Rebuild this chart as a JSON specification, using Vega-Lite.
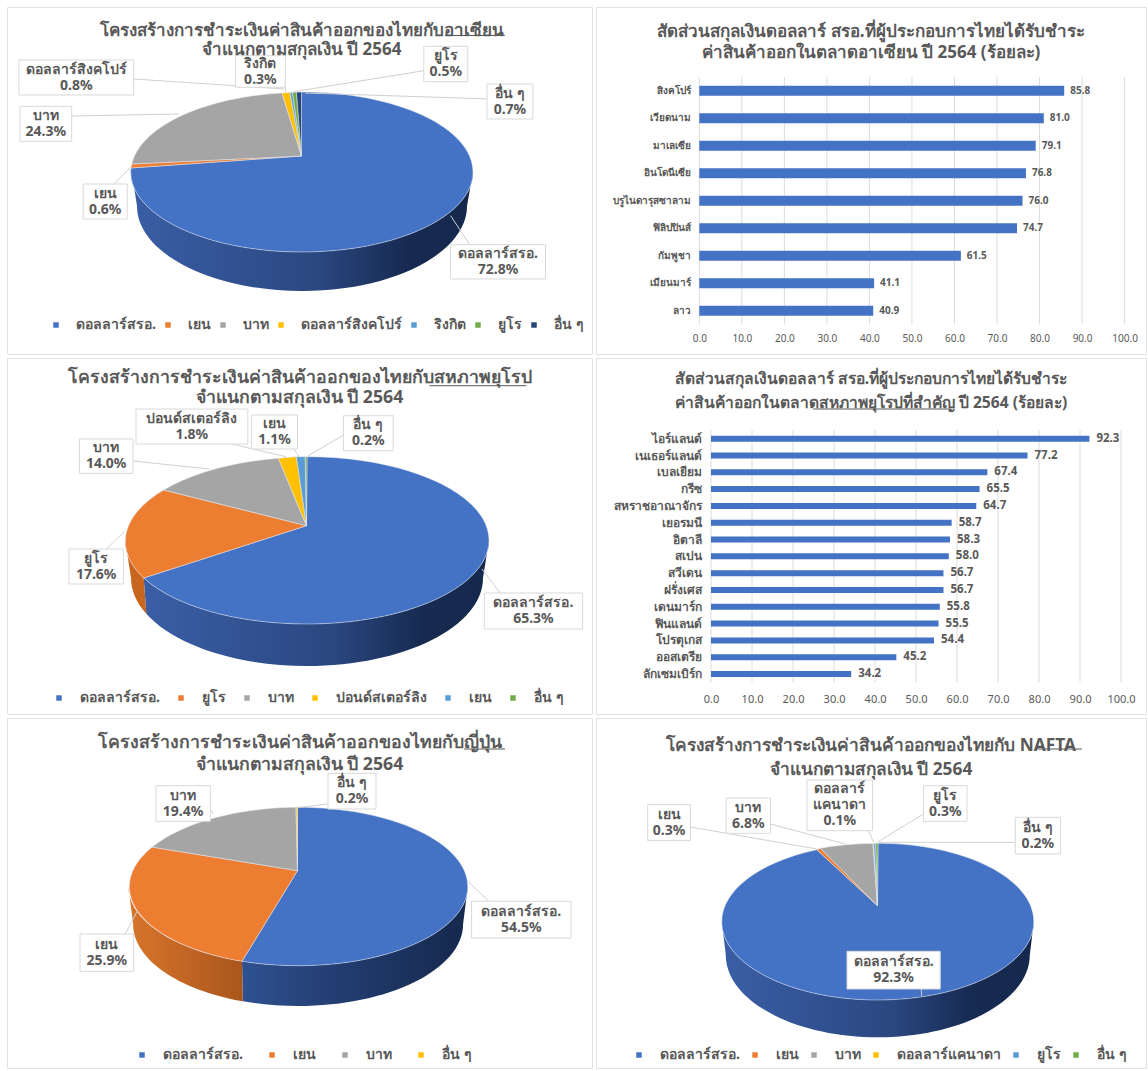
{
"$schema":"https://vega.github.io/schema/vega-lite/v6.json",
"padding":{"left":6,"top":6,"right":0,"bottom":0},
"background":"white",
"columns":2,
"spacing":4,
"bounds":"flush",
"align":"each",
"resolve":{"scale":{"color":"independent","shape":"independent"},"legend":{"color":"independent"}},
"config":{"font":"Noto Sans","view":{"stroke":"#e2e2e2"},"title":{"fontSize":17,"fontWeight":"bold","color":"#595959","lineHeight":20,"anchor":"middle"},"text":{"lineBreak":"\n"}},
"concat":[
{"width":585,"height":347,
"title":{"text":["โครงสร้างการชำระเงินค่าสินค้าออกของไทยกับอาเซียน","จำแนกตามสกุลเงิน ปี 2564"],"dy":56,"dx":2,"lineHeight":19},
"data":{"values":[{"slice":"ดอลลาร์สรอ.","share":72.8},{"slice":"เยน","share":0.6},{"slice":"บาท","share":24.3},{"slice":"ดอลลาร์สิงคโปร์","share":0.8},{"slice":"ริงกิต","share":0.3},{"slice":"ยูโร","share":0.5},{"slice":"อื่น ๆ","share":0.7}]},
"transform":[
{"calculate":"{'ดอลลาร์สิงคโปร์':[19.9,134.7,61,96,134.7,80,285,90],'บาท':[21,72.7,107.3,142.3,72.7,117,180,115],'เยน':[84.2,128.2,185,220,114.8,185,132,168],'ดอลลาร์สรอ.':[451.6,546.5,245.7,280,470.7,245.7,451.6,216.7],'ริงกิต':[236.5,286.3,56.7,88.3,286.3,88.3,287,93],'ยูโร':[424.8,468.8,47.3,82.7,424.8,71.7,294.7,92.7],'อื่น ๆ':[488,533.9,85,120,491.8,100,306,94]}[datum.slice]","as":"b"},
{"calculate":"(datum.b[0]+datum.b[1])/2","as":"tx"},{"calculate":"(datum.b[2]+datum.b[3])/2-8","as":"ty"},
{"calculate":"datum.slice+'\\n'+format(datum.share,'.1f')+'%'","as":"label"}],
"layer":[
{"transform":[{"filter":"datum.slice==='ดอลลาร์สรอ.'"}],
"mark":{"type":"point","filled":true,"opacity":1,"size":4,"shape":"M171.5,16 A171,80 0 0 1 0.5,96 A171,80 0 0 1 -170.5,12 L-164.5,50 A165,85 0 0 0 0.5,135 A165,85 0 0 0 165.5,50 Z","fill":{"gradient":"linear","x1":0,"x2":1,"y1":0,"y2":0,"stops":[{"offset":0,"color":"#3a5ea6"},{"offset":0.55,"color":"#2a4780"},{"offset":0.8,"color":"#172b52"},{"offset":1,"color":"#15284c"}]}},
"encoding":{"x":{"datum":302.5,"type":"quantitative","scale":{"domain":[8,593]},"axis":null},"y":{"datum":157,"type":"quantitative","scale":{"domain":[8,355],"reverse":true},"axis":null}}},
{"mark":{"type":"point","filled":true,"opacity":1,"size":4,"stroke":"#e4e9f2","strokeWidth":0.5},
"encoding":{"x":{"datum":302.5,"type":"quantitative","scale":{"domain":[8,593]},"axis":null},"y":{"datum":157,"type":"quantitative","scale":{"domain":[8,355],"reverse":true},"axis":null},
"color":{"field":"slice","type":"nominal","sort":null,"scale":{"domain":["ดอลลาร์สรอ.","เยน","บาท","ดอลลาร์สิงคโปร์","ริงกิต","ยูโร","อื่น ๆ"],"range":["#4472c4","#ed7d31","#a5a5a5","#ffc000","#5b9bd5","#70ad47","#264478"]},
"legend":{"orient":"none","legendX":42,"legendY":311,"direction":"horizontal","columns":7,"title":null,"symbolType":"square","symbolSize":30,"symbolStrokeWidth":0,"labelFontSize":14,"labelFontWeight":"bold","labelColor":"#595959","labelOffset":13,"columnPadding":5}},
"shape":{"field":"slice","type":"nominal","legend":null,"scale":{"domain":["ดอลลาร์สรอ.","เยน","บาท","ดอลลาร์สิงคโปร์","ริงกิต","ยูโร","อื่น ๆ","-"],"range":["M0,0 L0,-64 A171,80 0 0 1 171.5,16 A171,80 0 0 1 0.5,96 A171,80 0 0 1 -170.5,12 Z","M0,0 L-170.5,12 A171,80 0 0 1 -169.7,8 Z","M0,0 L-169.7,8 A171,80 0 0 1 -19.5,-63 Z","M0,0 L-19.5,-63 A171,80 0 0 1 -11.6,-63.6 Z","M0,0 L-11.6,-63.6 A171,80 0 0 1 -9,-63.6 Z","M0,0 L-9,-63.6 A171,80 0 0 1 -5,-63.8 Z","M0,0 L-5,-63.8 A171,80 0 0 1 0,-64 Z","circle"]}}}},
{"mark":{"type":"rule","color":"#d0d0d0","strokeWidth":1},
"encoding":{"x":{"field":"b[4]","type":"quantitative","scale":{"domain":[8,593]},"axis":null},"y":{"field":"b[5]","type":"quantitative","scale":{"domain":[8,355],"reverse":true},"axis":null},"x2":{"field":"b[6]"},"y2":{"field":"b[7]"}}},
{"mark":{"type":"rect","fill":"white","stroke":"#d9d9d9","strokeWidth":1},
"encoding":{"x":{"field":"b[0]","type":"quantitative","scale":{"domain":[8,593]},"axis":null},"y":{"field":"b[2]","type":"quantitative","scale":{"domain":[8,355],"reverse":true},"axis":null},"x2":{"field":"b[1]"},"y2":{"field":"b[3]"}}},
{"mark":{"type":"text","fontSize":14,"fontWeight":"bold","color":"#595959","lineHeight":16,"baseline":"middle"},
"encoding":{"x":{"field":"tx","type":"quantitative","scale":{"domain":[8,593]},"axis":null},"y":{"field":"ty","type":"quantitative","scale":{"domain":[8,355],"reverse":true},"axis":null},"text":{"field":"label","type":"nominal"}}},
{"data":{"values":[{"underline":"อาเซียน"}]},"mark":{"type":"rule","color":"#595959","strokeWidth":1},
"encoding":{"x":{"datum":445.8,"type":"quantitative","scale":{"domain":[8,593]},"axis":null},"x2":{"datum":505.9},"y":{"datum":36.5,"type":"quantitative","scale":{"domain":[8,355],"reverse":true},"axis":null}}}
]},
{"width":550,"height":347,
"title":{"text":["สัดส่วนสกุลเงินดอลลาร์ สรอ.ที่ผู้ประกอบการไทยได้รับชำระ","ค่าสินค้าออกในตลาดอาเซียน ปี 2564 (ร้อยละ)"],"dy":59,"dx":0,"lineHeight":21},
"layer":[
{"data":{"values":[{"tick":0},{"tick":10},{"tick":20},{"tick":30},{"tick":40},{"tick":50},{"tick":60},{"tick":70},{"tick":80},{"tick":90},{"tick":100}]},
"mark":{"type":"rule","color":"#dcdcdc","strokeWidth":1,"y":70,"y2":317.5},
"encoding":{"x":{"field":"tick","type":"quantitative","scale":{"domain":[0,100],"range":[103.3,528.6]},"axis":{"orient":"bottom","offset":-29.5,"values":[0,10,20,30,40,50,60,70,80,90,100],"format":".1f","grid":false,"domain":false,"ticks":false,"title":null,"labelPadding":9,"labelFontSize":10,"labelColor":"#595959","labelFlush":false,"labelOverlap":false}}}},
{"data":{"values":[{"name":"สิงคโปร์","v":85.8},{"name":"เวียดนาม","v":81.0},{"name":"มาเลเซีย","v":79.1},{"name":"อินโดนีเซีย","v":76.8},{"name":"บรูไนดารุสซาลาม","v":76.0},{"name":"ฟิลิปปินส์","v":74.7},{"name":"กัมพูชา","v":61.5},{"name":"เมียนมาร์","v":41.1},{"name":"ลาว","v":40.9}]},
"layer":[
{"mark":{"type":"bar","color":"#4472c4","height":10},
"encoding":{"x":{"field":"v","type":"quantitative","scale":{"domain":[0,100],"range":[103.3,528.6]}},
"y":{"field":"name","type":"nominal","sort":null,"scale":{"range":[70,317.5]},"axis":{"orient":"left","offset":-103.3,"title":null,"ticks":false,"domain":false,"labelPadding":9,"labelFontSize":10,"labelFontWeight":"bold","labelColor":"#595959"}}}},
{"mark":{"type":"text","align":"left","dx":6,"fontSize":10,"fontWeight":"bold","color":"#595959"},
"encoding":{"x":{"field":"v","type":"quantitative","scale":{"domain":[0,100],"range":[103.3,528.6]}},"y":{"field":"name","type":"nominal","sort":null,"scale":{"range":[70,317.5]}},"text":{"field":"v","type":"quantitative","format":".1f"}}}
]}
]},
{"width":585,"height":356,
"title":{"text":["โครงสร้างการชำระเงินค่าสินค้าออกของไทยกับสหภาพยุโรป","จำแนกตามสกุลเงิน ปี 2564"],"dy":53,"dx":0,"fontSize":17.7},
"data":{"values":[{"slice":"ดอลลาร์สรอ.","share":65.3},{"slice":"ยูโร","share":17.6},{"slice":"บาท","share":14.0},{"slice":"ปอนด์สเตอร์ลิง","share":1.8},{"slice":"เยน","share":1.1},{"slice":"อื่น ๆ","share":0.2}]},
"transform":[
{"calculate":"{'บาท':[80.4,134,440,474.3,134,462,210.5,470],'ปอนด์สเตอร์ลิง':[137,248.8,410,445,229.6,444.3,287,457.7],'เยน':[252.6,298.5,416,450,294.7,450,300.4,457.7],'อื่น ๆ':[344.4,394.2,416.7,451.7,346.3,435,309.2,456.7],'ยูโร':[70,124.4,550,585,107.2,550,126.3,531.7],'ดอลลาร์สรอ.':[485.3,583.6,594,630,501.3,594,483,570]}[datum.slice]","as":"b"},
{"calculate":"(datum.b[0]+datum.b[1])/2","as":"tx"},{"calculate":"(datum.b[2]+datum.b[3])/2-8","as":"ty"},
{"calculate":"datum.slice+'\\n'+format(datum.share,'.1f')+'%'","as":"label"}],
"layer":[
{"transform":[{"filter":"datum.slice==='ดอลลาร์สรอ.'"}],
"mark":{"type":"point","filled":true,"opacity":1,"size":4,"shape":"M182.5,14.6 A181.8,83.7 0 0 1 0.5,98.3 A181.8,83.7 0 0 1 -162.8,52.3 L-160.2,88.1 A176,88 0 0 0 0.5,140.3 A176,88 0 0 0 176.5,52.3 Z","fill":{"gradient":"linear","x1":0,"x2":1,"y1":0,"y2":0,"stops":[{"offset":0,"color":"#3a5ea6"},{"offset":0.55,"color":"#2a4780"},{"offset":0.8,"color":"#172b52"},{"offset":1,"color":"#15284c"}]}},
"encoding":{"x":{"datum":307.5,"type":"quantitative","scale":{"domain":[8,593]},"axis":null},"y":{"datum":526.7,"type":"quantitative","scale":{"domain":[359,715],"reverse":true},"axis":null}}},
{"transform":[{"filter":"datum.slice==='ยูโร'"}],
"mark":{"type":"point","filled":true,"opacity":1,"size":4,"shape":"M-162.8,52.3 A181.8,83.7 0 0 1 -181.3,14.6 L-175.5,52.3 A176,88 0 0 0 -160.2,88.1 Z","fill":"#c8651f"},
"encoding":{"x":{"datum":307.5,"type":"quantitative","scale":{"domain":[8,593]},"axis":null},"y":{"datum":526.7,"type":"quantitative","scale":{"domain":[359,715],"reverse":true},"axis":null}}},
{"mark":{"type":"point","filled":true,"opacity":1,"size":4,"stroke":"#e4e9f2","strokeWidth":0.5},
"encoding":{"x":{"datum":307.5,"type":"quantitative","scale":{"domain":[8,593]},"axis":null},"y":{"datum":526.7,"type":"quantitative","scale":{"domain":[359,715],"reverse":true},"axis":null},
"color":{"field":"slice","type":"nominal","sort":null,"scale":{"domain":["ดอลลาร์สรอ.","ยูโร","บาท","ปอนด์สเตอร์ลิง","เยน","อื่น ๆ"],"range":["#4472c4","#ed7d31","#a5a5a5","#ffc000","#5b9bd5","#70ad47"]},
"legend":{"orient":"none","legendX":45,"legendY":333,"direction":"horizontal","columns":6,"title":null,"symbolType":"square","symbolSize":30,"symbolStrokeWidth":0,"labelFontSize":14,"labelFontWeight":"bold","labelColor":"#595959","labelOffset":14,"columnPadding":14}},
"shape":{"field":"slice","type":"nominal","legend":null,"scale":{"domain":["ดอลลาร์สรอ.","ยูโร","บาท","ปอนด์สเตอร์ลิง","เยน","อื่น ๆ","-"],"range":["M0,0 L0.5,-69 A181.8,83.7 0 0 1 182.5,14.6 A181.8,83.7 0 0 1 0.5,98.3 A181.8,83.7 0 0 1 -162.8,52.3 Z","M0,0 L-162.8,52.3 A181.8,83.7 0 0 1 -142.9,-35.7 Z","M0,0 L-142.9,-35.7 A181.8,83.7 0 0 1 -28.1,-67.4 Z","M0,0 L-28.1,-67.4 A181.8,83.7 0 0 1 -10.1,-69 Z","M0,0 L-10.1,-69 A181.8,83.7 0 0 1 -1.3,-69 Z","M0,0 L-1.3,-69 A181.8,83.7 0 0 1 0.5,-69 Z","circle"]}}}},
{"mark":{"type":"rule","color":"#d0d0d0","strokeWidth":1},
"encoding":{"x":{"field":"b[4]","type":"quantitative","scale":{"domain":[8,593]},"axis":null},"y":{"field":"b[5]","type":"quantitative","scale":{"domain":[359,715],"reverse":true},"axis":null},"x2":{"field":"b[6]"},"y2":{"field":"b[7]"}}},
{"mark":{"type":"rect","fill":"white","stroke":"#d9d9d9","strokeWidth":1},
"encoding":{"x":{"field":"b[0]","type":"quantitative","scale":{"domain":[8,593]},"axis":null},"y":{"field":"b[2]","type":"quantitative","scale":{"domain":[359,715],"reverse":true},"axis":null},"x2":{"field":"b[1]"},"y2":{"field":"b[3]"}}},
{"mark":{"type":"text","fontSize":14,"fontWeight":"bold","color":"#595959","lineHeight":16,"baseline":"middle"},
"encoding":{"x":{"field":"tx","type":"quantitative","scale":{"domain":[8,593]},"axis":null},"y":{"field":"ty","type":"quantitative","scale":{"domain":[359,715],"reverse":true},"axis":null},"text":{"field":"label","type":"nominal"}}},
{"data":{"values":[{"underline":"สหภาพยุโรป"}]},"mark":{"type":"rule","color":"#595959","strokeWidth":1},
"encoding":{"x":{"datum":430.5,"type":"quantitative","scale":{"domain":[8,593]},"axis":null},"x2":{"datum":527.4},"y":{"datum":386.7,"type":"quantitative","scale":{"domain":[359,715],"reverse":true},"axis":null}}}
]},
{"width":550,"height":356,
"title":{"text":["สัดส่วนสกุลเงินดอลลาร์ สรอ.ที่ผู้ประกอบการไทยได้รับชำระ","ค่าสินค้าออกในตลาดสหภาพยุโรปที่สำคัญ ปี 2564 (ร้อยละ)"],"dy":58,"dx":0,"fontSize":15.6,"lineHeight":24},
"layer":[
{"data":{"values":[{"tick":0},{"tick":10},{"tick":20},{"tick":30},{"tick":40},{"tick":50},{"tick":60},{"tick":70},{"tick":80},{"tick":90},{"tick":100}]},
"mark":{"type":"rule","color":"#dcdcdc","strokeWidth":1,"y":72,"y2":324.4},
"encoding":{"x":{"field":"tick","type":"quantitative","scale":{"domain":[0,100],"range":[115,525]},"axis":{"orient":"bottom","offset":-31.6,"values":[0,10,20,30,40,50,60,70,80,90,100],"format":".1f","grid":false,"domain":false,"ticks":false,"title":null,"labelPadding":11,"labelFontSize":11,"labelColor":"#595959","labelFlush":false,"labelOverlap":false}}}},
{"data":{"values":[{"underline":"สหภาพยุโรปที่สำคัญ"}]},"mark":{"type":"rule","color":"#595959","strokeWidth":1,"y":51},
"encoding":{"x":{"datum":24.9,"type":"quantitative","scale":{"domain":[0,100],"range":[115,525]}},"x2":{"datum":58.3}}},
{"data":{"values":[{"name":"ไอร์แลนด์","v":92.3},{"name":"เนเธอร์แลนด์","v":77.2},{"name":"เบลเยียม","v":67.4},{"name":"กรีซ","v":65.5},{"name":"สหราชอาณาจักร","v":64.7},{"name":"เยอรมนี","v":58.7},{"name":"อิตาลี","v":58.3},{"name":"สเปน","v":58.0},{"name":"สวีเดน","v":56.7},{"name":"ฝรั่งเศส","v":56.7},{"name":"เดนมาร์ก","v":55.8},{"name":"ฟินแลนด์","v":55.5},{"name":"โปรตุเกส","v":54.4},{"name":"ออสเตรีย","v":45.2},{"name":"ลักเซมเบิร์ก","v":34.2}]},
"layer":[
{"mark":{"type":"bar","color":"#4472c4","height":6},
"encoding":{"x":{"field":"v","type":"quantitative","scale":{"domain":[0,100],"range":[115,525]}},
"y":{"field":"name","type":"nominal","sort":null,"scale":{"range":[72.3,324.4]},"axis":{"orient":"left","offset":-115,"title":null,"ticks":false,"domain":false,"labelPadding":10,"labelFontSize":12,"labelFontWeight":"bold","labelColor":"#595959"}}}},
{"mark":{"type":"text","align":"left","dx":7,"fontSize":11.5,"fontWeight":"bold","color":"#595959"},
"encoding":{"x":{"field":"v","type":"quantitative","scale":{"domain":[0,100],"range":[115,525]}},"y":{"field":"name","type":"nominal","sort":null,"scale":{"range":[72.3,324.4]}},"text":{"field":"v","type":"quantitative","format":".1f"}}}
]}
]},
{"width":585,"height":350,
"title":{"text":["โครงสร้างการชำระเงินค่าสินค้าออกของไทยกับญี่ปุ่น","จำแนกตามสกุลเงิน ปี 2564"],"dy":60,"dx":0,"fontSize":17.7,"lineHeight":22},
"data":{"values":[{"slice":"ดอลลาร์สรอ.","share":54.5},{"slice":"เยน","share":25.9},{"slice":"บาท","share":19.4},{"slice":"อื่น ๆ","share":0.2}]},
"transform":[
{"calculate":"{'บาท':[157,211.3,786.7,822.3,211,810,214.3,815],'อื่น ๆ':[329,377,774.3,810,329,805,300.4,808.3],'ดอลลาร์สรอ.':[472.6,572,902.3,939,489.9,902.3,470,883.3],'เยน':[81,134.7,935,972.3,126.3,935,138.5,911.7]}[datum.slice]","as":"b"},
{"calculate":"(datum.b[0]+datum.b[1])/2","as":"tx"},{"calculate":"(datum.b[2]+datum.b[3])/2-8","as":"ty"},
{"calculate":"datum.slice+'\\n'+format(datum.share,'.1f')+'%'","as":"label"}],
"layer":[
{"transform":[{"filter":"datum.slice==='ดอลลาร์สรอ.'"}],
"mark":{"type":"point","filled":true,"opacity":1,"size":4,"shape":"M170.3,15.8 A169.7,79.2 0 0 1 0.6,95 A169.7,79.2 0 0 1 -55.5,90.6 L-54.7,130.6 A165,82 0 0 0 0.6,135.3 A165,82 0 0 0 165.6,53.3 Z","fill":{"gradient":"linear","x1":0,"x2":1,"y1":0,"y2":0,"stops":[{"offset":0,"color":"#2f5190"},{"offset":0.45,"color":"#223c6f"},{"offset":1,"color":"#15284c"}]}},
"encoding":{"x":{"datum":298.5,"type":"quantitative","scale":{"domain":[8,593]},"axis":null},"y":{"datum":871.7,"type":"quantitative","scale":{"domain":[719,1069],"reverse":true},"axis":null}}},
{"transform":[{"filter":"datum.slice==='เยน'"}],
"mark":{"type":"point","filled":true,"opacity":1,"size":4,"shape":"M-55.5,90.6 A169.7,79.2 0 0 1 -169.1,15.8 L-164.4,53.3 A165,82 0 0 0 -54.7,130.6 Z","fill":{"gradient":"linear","x1":0,"x2":1,"y1":0,"y2":0,"stops":[{"offset":0,"color":"#d9752c"},{"offset":1,"color":"#a9561c"}]}},
"encoding":{"x":{"datum":298.5,"type":"quantitative","scale":{"domain":[8,593]},"axis":null},"y":{"datum":871.7,"type":"quantitative","scale":{"domain":[719,1069],"reverse":true},"axis":null}}},
{"mark":{"type":"point","filled":true,"opacity":1,"size":4,"stroke":"#e4e9f2","strokeWidth":0.5},
"encoding":{"x":{"datum":298.5,"type":"quantitative","scale":{"domain":[8,593]},"axis":null},"y":{"datum":871.7,"type":"quantitative","scale":{"domain":[719,1069],"reverse":true},"axis":null},
"color":{"field":"slice","type":"nominal","sort":null,"scale":{"domain":["ดอลลาร์สรอ.","เยน","บาท","อื่น ๆ"],"range":["#4472c4","#ed7d31","#a5a5a5","#ffc000"]},
"legend":{"orient":"none","legendX":128,"legendY":330,"direction":"horizontal","columns":4,"title":null,"symbolType":"square","symbolSize":30,"symbolStrokeWidth":0,"labelFontSize":14,"labelFontWeight":"bold","labelColor":"#595959","labelOffset":14,"columnPadding":22}},
"shape":{"field":"slice","type":"nominal","legend":null,"scale":{"domain":["ดอลลาร์สรอ.","เยน","บาท","อื่น ๆ","-"],"range":["M0,0 L0,-63.4 A169.7,79.2 0 0 1 170.3,15.8 A169.7,79.2 0 0 1 0.6,95 A169.7,79.2 0 0 1 -55.5,90.6 Z","M0,0 L-55.5,90.6 A169.7,79.2 0 0 1 -145.4,-23.6 Z","M0,0 L-145.4,-23.6 A169.7,79.2 0 0 1 -1.5,-63.4 Z","M0,0 L-1.5,-63.4 A169.7,79.2 0 0 1 0,-63.4 Z","circle"]}}}},
{"mark":{"type":"rule","color":"#d0d0d0","strokeWidth":1},
"encoding":{"x":{"field":"b[4]","type":"quantitative","scale":{"domain":[8,593]},"axis":null},"y":{"field":"b[5]","type":"quantitative","scale":{"domain":[719,1069],"reverse":true},"axis":null},"x2":{"field":"b[6]"},"y2":{"field":"b[7]"}}},
{"mark":{"type":"rect","fill":"white","stroke":"#d9d9d9","strokeWidth":1},
"encoding":{"x":{"field":"b[0]","type":"quantitative","scale":{"domain":[8,593]},"axis":null},"y":{"field":"b[2]","type":"quantitative","scale":{"domain":[719,1069],"reverse":true},"axis":null},"x2":{"field":"b[1]"},"y2":{"field":"b[3]"}}},
{"mark":{"type":"text","fontSize":14,"fontWeight":"bold","color":"#595959","lineHeight":16,"baseline":"middle"},
"encoding":{"x":{"field":"tx","type":"quantitative","scale":{"domain":[8,593]},"axis":null},"y":{"field":"ty","type":"quantitative","scale":{"domain":[719,1069],"reverse":true},"axis":null},"text":{"field":"label","type":"nominal"}}},
{"data":{"values":[{"underline":"ญี่ปุ่น"}]},"mark":{"type":"rule","color":"#595959","strokeWidth":1},
"encoding":{"x":{"datum":465,"type":"quantitative","scale":{"domain":[8,593]},"axis":null},"x2":{"datum":506},"y":{"datum":750,"type":"quantitative","scale":{"domain":[719,1069],"reverse":true},"axis":null}}}
]},
{"width":550,"height":350,
"title":{"text":["โครงสร้างการชำระเงินค่าสินค้าออกของไทยกับ NAFTA","จำแนกตามสกุลเงิน ปี 2564"],"dy":64,"dx":0,"fontSize":17.3,"lineHeight":23.5},
"data":{"values":[{"slice":"ดอลลาร์สรอ.","share":92.3},{"slice":"เยน","share":0.3},{"slice":"บาท","share":6.8},{"slice":"ดอลลาร์แคนาดา","share":0.1},{"slice":"ยูโร","share":0.3},{"slice":"อื่น ๆ","share":0.2}]},
"transform":[
{"calculate":"{'เยน':[648.7,691.4,805.7,841.7,691.4,828,817.8,850],'บาท':[727,771.5,799,834.3,771.5,825,846.2,845],'ดอลลาร์แคนาดา':[808,873.6,781,831.7,869.4,831.7,874.7,843.3],'ยูโร':[924.5,968,786.7,822.3,924.5,815,878.3,843.3],'อื่น ๆ':[1016.3,1061.5,818.3,855,1016.3,843.3,880,843.3],'ดอลลาร์สรอ.':[848,941.2,952.3,990,922,990,922.7,996.7]}[datum.slice]","as":"b"},
{"calculate":"(datum.b[0]+datum.b[1])/2","as":"tx"},{"calculate":"(datum.b[2]+datum.b[3])/2-(datum.slice==='ดอลลาร์แคนาดา'?16:8)","as":"ty"},
{"calculate":"(datum.slice==='ดอลลาร์แคนาดา'?'ดอลลาร์\\nแคนาดา':datum.slice)+'\\n'+format(datum.share,'.1f')+'%'","as":"label"}],
"layer":[
{"transform":[{"filter":"datum.slice==='ดอลลาร์สรอ.'"}],
"mark":{"type":"point","filled":true,"opacity":1,"size":4,"shape":"M156.3,16 A156,78.3 0 0 1 0.3,94.3 A156,78.3 0 0 1 -155.7,16 L-151.7,49.3 A152,82.3 0 0 0 0.3,131.6 A152,82.3 0 0 0 152.3,49.3 Z","fill":{"gradient":"linear","x1":0,"x2":1,"y1":0,"y2":0,"stops":[{"offset":0,"color":"#3a5ea6"},{"offset":0.55,"color":"#2a4780"},{"offset":0.8,"color":"#172b52"},{"offset":1,"color":"#15284c"}]}},
"encoding":{"x":{"datum":878.5,"type":"quantitative","scale":{"domain":[597,1147]},"axis":null},"y":{"datum":906.7,"type":"quantitative","scale":{"domain":[719,1069],"reverse":true},"axis":null}}},
{"mark":{"type":"point","filled":true,"opacity":1,"size":4,"stroke":"#e4e9f2","strokeWidth":0.5},
"encoding":{"x":{"datum":878.5,"type":"quantitative","scale":{"domain":[597,1147]},"axis":null},"y":{"datum":906.7,"type":"quantitative","scale":{"domain":[719,1069],"reverse":true},"axis":null},
"color":{"field":"slice","type":"nominal","sort":null,"scale":{"domain":["ดอลลาร์สรอ.","เยน","บาท","ดอลลาร์แคนาดา","ยูโร","อื่น ๆ"],"range":["#4472c4","#ed7d31","#a5a5a5","#ffc000","#5b9bd5","#70ad47"]},
"legend":{"orient":"none","legendX":36,"legendY":330,"direction":"horizontal","columns":6,"title":null,"symbolType":"square","symbolSize":30,"symbolStrokeWidth":0,"labelFontSize":14,"labelFontWeight":"bold","labelColor":"#595959","labelOffset":14,"columnPadding":8}},
"shape":{"field":"slice","type":"nominal","legend":null,"scale":{"domain":["ดอลลาร์สรอ.","เยน","บาท","ดอลลาร์แคนาดา","ยูโร","อื่น ๆ","-"],"range":["M0,0 L0.5,-62.4 A156,78.3 0 0 1 156.3,16 A156,78.3 0 0 1 0.3,94.3 A156,78.3 0 0 1 -155.7,16 A156,78.3 0 0 1 -60.7,-56 Z","M0,0 L-60.7,-56 A156,78.3 0 0 1 -57.2,-57.4 Z","M0,0 L-57.2,-57.4 A156,78.3 0 0 1 -4.5,-62.2 Z","M0,0 L-4.5,-62.2 A156,78.3 0 0 1 -3.8,-62.3 Z","M0,0 L-3.8,-62.3 A156,78.3 0 0 1 -1.7,-62.4 Z","M0,0 L-1.7,-62.4 A156,78.3 0 0 1 0.5,-62.4 Z","circle"]}}}},
{"mark":{"type":"rule","color":"#d0d0d0","strokeWidth":1},
"encoding":{"x":{"field":"b[4]","type":"quantitative","scale":{"domain":[597,1147]},"axis":null},"y":{"field":"b[5]","type":"quantitative","scale":{"domain":[719,1069],"reverse":true},"axis":null},"x2":{"field":"b[6]"},"y2":{"field":"b[7]"}}},
{"mark":{"type":"rect","fill":"white","stroke":"#d9d9d9","strokeWidth":1},
"encoding":{"x":{"field":"b[0]","type":"quantitative","scale":{"domain":[597,1147]},"axis":null},"y":{"field":"b[2]","type":"quantitative","scale":{"domain":[719,1069],"reverse":true},"axis":null},"x2":{"field":"b[1]"},"y2":{"field":"b[3]"}}},
{"mark":{"type":"text","fontSize":14,"fontWeight":"bold","color":"#595959","lineHeight":16,"baseline":"middle"},
"encoding":{"x":{"field":"tx","type":"quantitative","scale":{"domain":[597,1147]},"axis":null},"y":{"field":"ty","type":"quantitative","scale":{"domain":[719,1069],"reverse":true},"axis":null},"text":{"field":"label","type":"nominal"}}},
{"data":{"values":[{"underline":"NAFTA"}]},"mark":{"type":"rule","color":"#595959","strokeWidth":1},
"encoding":{"x":{"datum":1035.6,"type":"quantitative","scale":{"domain":[597,1147]},"axis":null},"x2":{"datum":1082.9},"y":{"datum":750,"type":"quantitative","scale":{"domain":[719,1069],"reverse":true},"axis":null}}}
]}
]
}
